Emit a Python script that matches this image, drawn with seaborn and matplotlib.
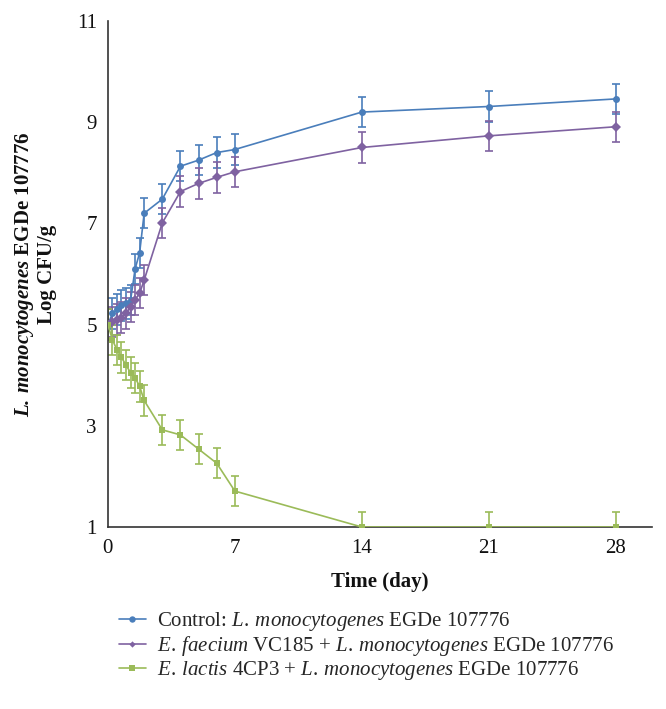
import numpy as np
import pandas as pd
import seaborn as sns
import matplotlib
matplotlib.use("Agg")
import matplotlib.pyplot as plt

days = [0, 0.25, 0.5, 0.75, 1, 1.25, 1.5, 1.75, 2, 3, 4, 5, 6, 7, 14, 21, 28]
control = [5.0, 5.22, 5.30, 5.38, 5.42, 5.48, 6.10, 6.42, 7.20, 7.48, 8.13, 8.25, 8.40, 8.46, 9.20, 9.31, 9.46]
faecium = [5.0, 5.05, 5.10, 5.14, 5.22, 5.35, 5.49, 5.62, 5.88, 7.01, 7.63, 7.79, 7.91, 8.02, 8.50, 8.73, 8.91]
lactis = [5.0, 4.70, 4.50, 4.35, 4.20, 4.05, 3.95, 3.78, 3.50, 2.92, 2.82, 2.54, 2.26, 1.71, 1.0, 1.0, 1.0]
err_control = [0.3] * 17
err_faecium = [0.3] * 17
err_lactis = [0.3] * 17

labels = [r"Control: $\mathit{L.}\:\mathit{monocytogenes}$ EGDe 107776",
          r"$\mathit{E.}\:\mathit{faecium}$ VC185 + $\mathit{L.}\:\mathit{monocytogenes}$ EGDe 107776",
          r"$\mathit{E.}\:\mathit{lactis}$ 4CP3 + $\mathit{L.}\:\mathit{monocytogenes}$ EGDe 107776"]
colors = ["#4A7EBB", "#7F62A1", "#9BBB59"]
markers = ["o", "D", "s"]
msizes = [4.6, 3.2, 4.3]

sns.set_theme(style="white")
plt.rcParams["font.family"] = ["Liberation Serif", "DejaVu Serif"]
plt.rcParams["mathtext.fontset"] = "custom"
plt.rcParams["mathtext.rm"] = "Liberation Serif"
plt.rcParams["mathtext.it"] = "Liberation Serif:italic"
plt.rcParams["mathtext.bf"] = "Liberation Serif:bold"
try:
    plt.rcParams["mathtext.bfit"] = "Liberation Serif:italic:bold"
    has_bfit = True
except Exception:
    has_bfit = False

df = pd.DataFrame({
    "day": days * 3,
    "value": control + faecium + lactis,
    "err": err_control + err_faecium + err_lactis,
    "series": [labels[0]] * 17 + [labels[1]] * 17 + [labels[2]] * 17,
})

fig = plt.figure(figsize=(6.66, 7.09), dpi=100)
ax = fig.add_axes([0.162, 0.2567, 0.817, 0.7137])

for lab, col in zip(labels, colors):
    sub = df[df.series == lab]
    ax.errorbar(sub.day, sub.value, yerr=sub.err, fmt="none", ecolor=col,
                elinewidth=1.2, capsize=3.2, capthick=1.2, zorder=2)

sns.lineplot(data=df, x="day", y="value", hue="series", style="series",
             hue_order=labels, style_order=labels, palette=colors,
             markers=markers, dashes=False, markersize=5, linewidth=1.2,
             markeredgewidth=0, ax=ax, zorder=3)
for line, ms in zip(ax.lines[-3:], msizes):
    line.set_markersize(ms)

ax.set_xlim(0, 30)
ax.set_ylim(1, 11)
ax.set_xticks([0, 7, 14, 21, 28])
ax.set_yticks([1, 3, 5, 7, 9, 11])
for s in ["top", "right"]:
    ax.spines[s].set_visible(False)
for s in ["left", "bottom"]:
    ax.spines[s].set_color("#333333")
    ax.spines[s].set_linewidth(1.2)
ax.tick_params(axis="both", direction="out", length=5, width=1.2, color="#333333",
               labelsize=15, labelcolor="#111111", pad=3)
ax.tick_params(axis="x", pad=4)

ax.set_xlabel("Time (day)", fontsize=15, fontweight="bold", labelpad=10, color="#111111")
if has_bfit:
    ylab = r"$\mathbfit{L.}\:\mathbfit{monocytogenes}$ EGDe 107776" + "\nLog CFU/g"
else:
    ylab = r"$\mathit{L.}\:\mathit{monocytogenes}$ EGDe 107776" + "\nLog CFU/g"
ax.set_ylabel(ylab, fontsize=15, fontweight="bold", labelpad=14, color="#111111",
              linespacing=1.1)

handles, _ = ax.get_legend_handles_labels()
for h, ms in zip(handles[-3:], msizes):
    h.set_markersize(ms)
ax.legend(handles=handles[-3:], labels=labels, loc="upper left",
          bbox_to_anchor=(0.166, 0.151), bbox_transform=fig.transFigure,
          frameon=False, fontsize=15, handlelength=1.3, handletextpad=0.55,
          labelspacing=0.05, borderaxespad=0)

fig.savefig("out.png", dpi=100)
